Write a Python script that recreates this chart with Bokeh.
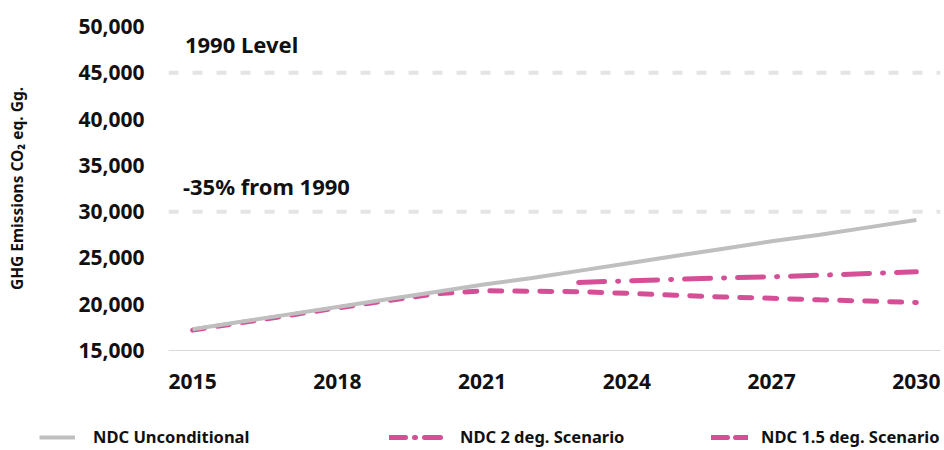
import math
from bokeh.plotting import figure
from bokeh.layouts import column
from bokeh.models import (Range1d, FixedTicker, NumeralTickFormatter, Span, Label,
                          Legend, LegendItem, ColumnDataSource)
from bokeh.embed import file_html
from bokeh.resources import INLINE

# ---------------- data ----------------
years = list(range(2015, 2031))
ndc_unconditional = [17300, 18100, 18900, 19700, 20500, 21300, 22100, 22800,
                     23600, 24400, 25200, 26000, 26800, 27500, 28300, 29100]
ndc_15_deg = [17200, 18000, 18800, 19600, 20350, 21100, 21450, 21400,
              21350, 21180, 20970, 20780, 20640, 20470, 20340, 20180]
ndc_2_deg = [math.nan] * 8 + [22350, 22520, 22680, 22840, 22960, 23130, 23320, 23500]

x_ticks = [2015, 2018, 2021, 2024, 2027, 2030]
y_ticks = [15000, 20000, 25000, 30000, 35000, 40000, 45000, 50000]
ref_levels = [45000, 30000]
ref_labels = ["1990 Level", "-35% from 1990"]
series_names = ["NDC Unconditional", "NDC 2 deg. Scenario", "NDC 1.5 deg. Scenario"]

FONT = "Noto Sans"
PINK = "#D54F96"
GRAY = "#BFBFBF"
TXT = "#111111"

src = ColumnDataSource(dict(year=years, unc=ndc_unconditional,
                            d15=ndc_15_deg, d2=ndc_2_deg))

p = figure(width=944, height=410, output_backend="svg", toolbar_location=None,
           x_range=Range1d(2014.5, 2030.5), y_range=Range1d(15000, 50000),
           min_border_left=168, min_border_right=4, min_border_top=26,
           min_border_bottom=60)
p.frame_align = False
p.outline_line_color = None
p.xgrid.visible = False
p.ygrid.visible = False

# reference dashed lines
for lvl in ref_levels:
    p.add_layout(Span(location=lvl, dimension="width", line_color="#E4E4E4",
                      line_width=4, line_dash="10 14"))

# series (gray drawn last, on top)
p.line("year", "d2", source=src, line_color=PINK, line_width=5,
       line_dash="26 13 1 13", line_cap="round")
p.line("year", "d15", source=src, line_color=PINK, line_width=5,
       line_dash="12 13", line_cap="round")
p.line("year", "unc", source=src, line_color=GRAY, line_width=4)

# annotations
p.add_layout(Label(x=2014.84, y=48100, text=ref_labels[0], text_font=FONT,
                   text_font_style="bold", text_font_size="22px",
                   text_color=TXT, text_baseline="middle"))
p.add_layout(Label(x=2014.80, y=32750, text=ref_labels[1], text_font=FONT,
                   text_font_style="bold", text_font_size="22px",
                   text_color=TXT, text_baseline="middle"))

# axes
p.xaxis.ticker = FixedTicker(ticks=x_ticks)
p.xaxis.major_tick_line_color = None
p.xaxis.minor_tick_line_color = None
p.xaxis.axis_line_color = "#D9D9D9"
p.xaxis.axis_line_width = 1
p.xaxis.major_label_text_font = FONT
p.xaxis.major_label_text_font_style = "bold"
p.xaxis.major_label_text_font_size = "21px"
p.xaxis.major_label_text_color = TXT
p.xaxis.major_label_standoff = 17

p.yaxis.ticker = FixedTicker(ticks=y_ticks)
p.yaxis.formatter = NumeralTickFormatter(format="0,0")
p.yaxis.major_tick_line_color = None
p.yaxis.minor_tick_line_color = None
p.yaxis.axis_line_color = None
p.yaxis.major_label_text_font = FONT
p.yaxis.major_label_text_font_style = "bold"
p.yaxis.major_label_text_font_size = "21px"
p.yaxis.major_label_text_color = TXT
p.yaxis.major_label_standoff = 18
p.yaxis.axis_label = "GHG Emissions CO\u2082 eq. Gg."
p.yaxis.axis_label_text_font = FONT
p.yaxis.axis_label_text_font_style = "bold"
p.yaxis.axis_label_text_font_size = "15.5px"
p.yaxis.axis_label_text_color = TXT
p.yaxis.axis_label_standoff = 47

# ---------------- legend strip ----------------
# swatch renderers reuse the series data; the strip's ranges keep them off-screen
lg = figure(width=944, height=40, output_backend="svg", toolbar_location=None,
            x_range=Range1d(0, 1), y_range=Range1d(0, 1),
            x_axis_type=None, y_axis_type=None,
            min_border_left=0, min_border_right=0, min_border_top=0,
            min_border_bottom=0)
lg.frame_align = False
lg.outline_line_color = None
sw_u = lg.line("year", "unc", source=src, line_color=GRAY, line_width=4)
sw_2 = lg.line("year", "d2", source=src, line_color=PINK, line_width=5,
               line_dash="16 9 1 9", line_cap="round")
sw_15 = lg.line("year", "d15", source=src, line_color=PINK, line_width=5,
                line_dash="16 8", line_cap="round")

def make_legend(name, rend, x0, gw, standoff):
    leg = Legend(items=[LegendItem(label=name, renderers=[rend])],
                 location=(x0, 2), orientation="horizontal",
                 glyph_width=gw, glyph_height=16, label_standoff=standoff,
                 label_text_font=FONT, label_text_font_style="bold",
                 label_text_font_size="16.5px", label_text_color=TXT,
                 border_line_alpha=0, background_fill_alpha=0,
                 padding=0, margin=0, spacing=0)
    lg.add_layout(leg, "center")

make_legend(series_names[0], sw_u, 39, 36, 18)
make_legend(series_names[1], sw_2, 389, 55, 16)
make_legend(series_names[2], sw_15, 711, 37, 13)

open("out.html", "w").write(file_html(column(p, lg, spacing=0), INLINE))
